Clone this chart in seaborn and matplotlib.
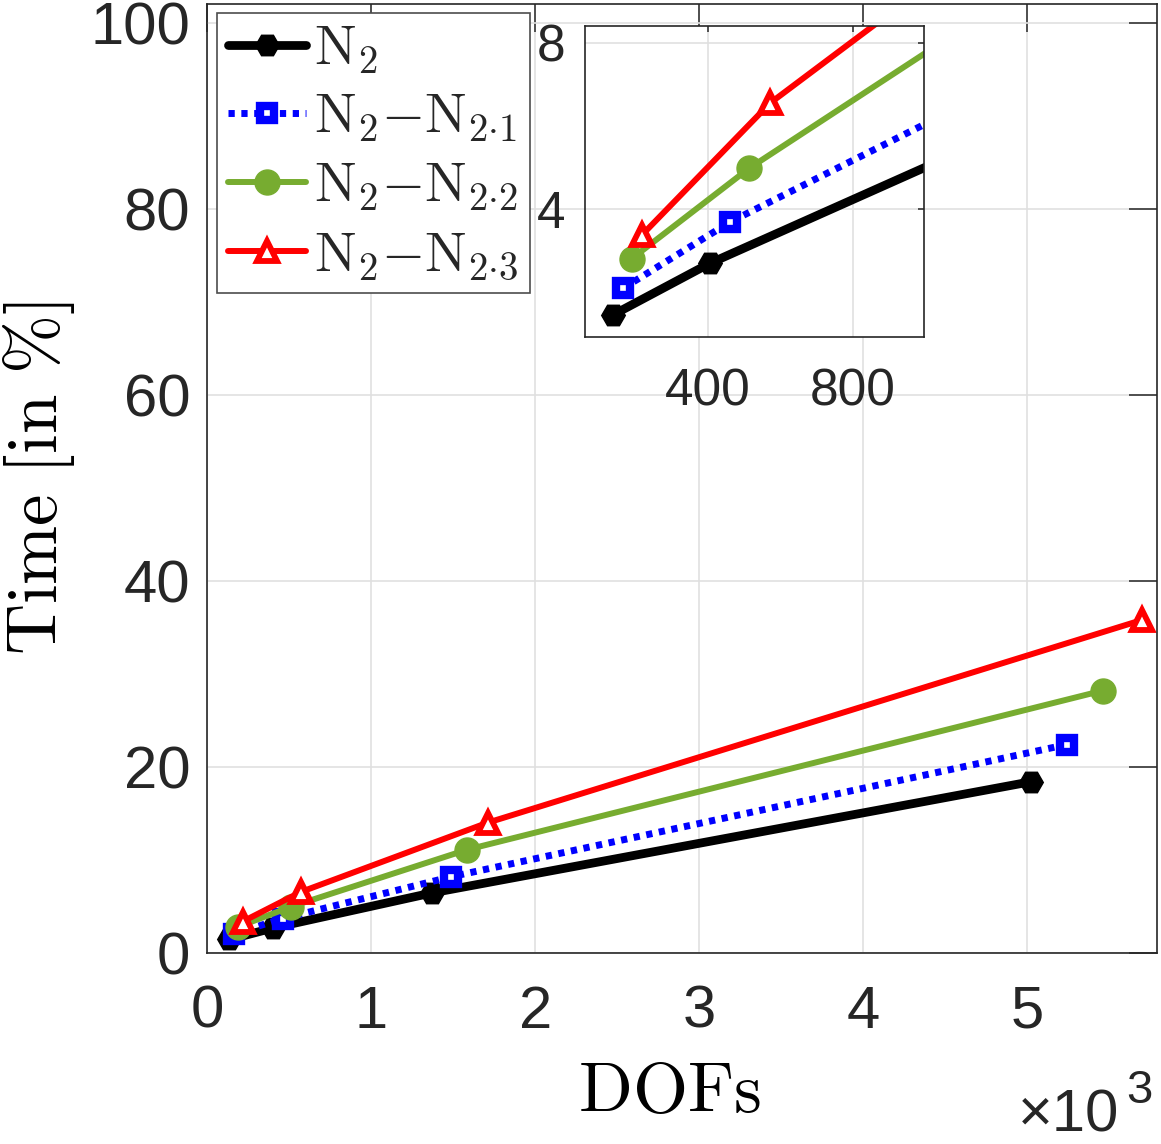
import numpy as np
import pandas as pd
import matplotlib
matplotlib.use("Agg")
import matplotlib.pyplot as plt
import seaborn as sns

# ---------------- data ----------------
dofs_n2 = [137, 404, 1370, 5020]
time_n2 = [1.45, 2.69, 6.45, 18.4]
dofs_n21 = [165, 461, 1490, 5240]
time_n21 = [2.09, 3.69, 8.2, 22.4]
dofs_n22 = [190, 513, 1585, 5460]
time_n22 = [2.81, 4.98, 11.1, 28.2]
dofs_n23 = [217, 571, 1710, 5700]
time_n23 = [3.37, 6.55, 14.0, 35.8]

series_labels = [r"$\mathrm{N}_2$",
                 r"$\mathrm{N}_2{-}\mathrm{N}_{2{\cdot}1}$",
                 r"$\mathrm{N}_2{-}\mathrm{N}_{2{\cdot}2}$",
                 r"$\mathrm{N}_2{-}\mathrm{N}_{2{\cdot}3}$"]
xticks_main = [0, 1, 2, 3, 4, 5]
yticks_main = [0, 20, 40, 60, 80, 100]
xticks_inset = [400, 800]
yticks_inset = [4, 8]
x_label = r"$\mathrm{DOFs}$"
y_label = r"$\mathrm{Time\ [in\ \%]}$"

# ---------------- style ----------------
sns.set_style("white")
plt.rcParams["font.family"] = ["Liberation Sans", "DejaVu Sans"]
plt.rcParams["mathtext.fontset"] = "cm"

axis_col = "0.15"
grid_col = "#e0e0e0"

styles = [
    dict(color="black", marker="H", ls="-", lw=6.3, ms=17, mfc="black", mec="black", mew=1),
    dict(color="#0000FF", marker="s", ls=(0, (0.9, 0.95)), lw=5.0, ms=10, mfc="white", mec="#0000FF", mew=6),
    dict(color="#77AC30", marker="o", ls="-", lw=4.3, ms=18, mfc="#77AC30", mec="#77AC30", mew=1),
    dict(color="#FF0000", marker="^", ls="-", lw=4.3, ms=15, mfc="white", mec="#FF0000", mew=4.2),
]

frames = []
for d, t, lab in zip([dofs_n2, dofs_n21, dofs_n22, dofs_n23],
                     [time_n2, time_n21, time_n22, time_n23], series_labels):
    frames.append(pd.DataFrame({"dofs": d, "dofs_k": np.array(d) / 1000.0, "time": t, "label": lab}))

fig = plt.figure(figsize=(11.61, 11.44), dpi=100)
ax = fig.add_axes([0.1783, 0.167, 0.8183, 0.8295])

for df, st in zip(frames, styles):
    sns.lineplot(data=df, x="dofs_k", y="time", ax=ax, label=df["label"].iloc[0],
                 sort=False, estimator=None, **st)

ax.set_xlim(0, 5.79)
ax.set_ylim(0, 102)
ax.set_xticks(xticks_main)
ax.set_yticks(yticks_main)
ax.grid(True, color=grid_col, lw=1.2)
ax.set_axisbelow(True)
for s in ax.spines.values():
    s.set_color(axis_col)
    s.set_linewidth(1.2)
ax.tick_params(axis="both", direction="in", length=20, width=1.1, color=axis_col,
               labelcolor=axis_col, labelsize=43, top=True, right=True)
ax.tick_params(axis="x", pad=23)
ax.tick_params(axis="y", pad=12)
ax.set_xlabel(x_label, fontsize=51, color="black", labelpad=15)
ax.xaxis.label.set_x(0.487)
ax.set_ylabel(y_label, fontsize=51, color="black", labelpad=10)

leg = ax.legend(loc="upper left", bbox_to_anchor=(0.0105, 0.9905), fontsize=40,
                frameon=True, fancybox=False, framealpha=1, edgecolor="0.3",
                handlelength=1.4, handletextpad=0.15, labelspacing=0.3,
                borderpad=0.2, borderaxespad=0.0)
leg.get_frame().set_linewidth(1.2)

fig.text(1018 / 1161, 12 / 1144, "\u00d710", fontsize=43, color=axis_col, ha="left", va="baseline")
fig.text(1126 / 1161, 41 / 1144, "3", fontsize=34, color=axis_col, ha="left", va="baseline")

# ---------------- inset ----------------
axi = fig.add_axes([0.504, 0.7054, 0.292, 0.272])
for df, st in zip(frames, styles):
    sns.lineplot(data=df, x="dofs", y="time", ax=axi, sort=False, estimator=None,
                 legend=False, **st)
axi.set_xlim(61, 996)
axi.set_ylim(0.92, 8.41)
axi.set_xticks(xticks_inset)
axi.set_yticks(yticks_inset)
axi.grid(True, color=grid_col, lw=1.2)
axi.set_axisbelow(True)
axi.set_xlabel("")
axi.set_ylabel("")
for s in axi.spines.values():
    s.set_color(axis_col)
    s.set_linewidth(1.2)
axi.tick_params(axis="both", direction="in", length=4, width=1.1, color=axis_col,
                labelcolor=axis_col, labelsize=37, top=True, right=True)
axi.tick_params(axis="x", pad=22)
axi.tick_params(axis="y", pad=14)

fig.savefig("out.png", dpi=100, facecolor="white")
